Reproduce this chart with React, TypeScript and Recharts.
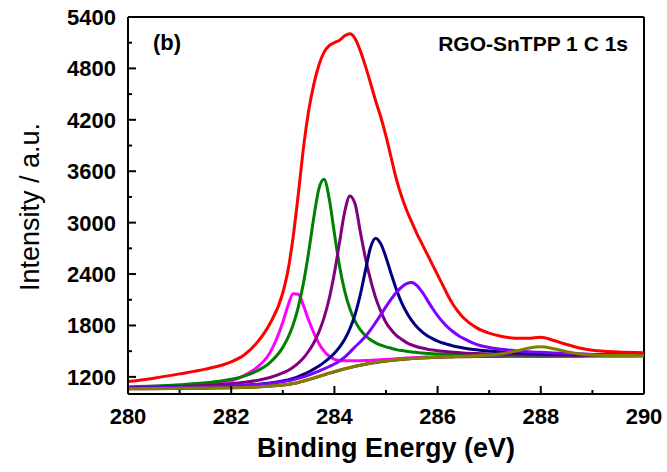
import React from "react";
import { LineChart, Line, XAxis, YAxis, ReferenceLine } from "recharts";

// binding energy grid (eV), finer around the peaks
const energy = [
  280, 280.5, 281, 281.5, 282, 282.25, 282.5, 282.75, 283, 283.1, 283.2, 283.3, 283.4, 283.5,
  283.6, 283.7, 283.8, 283.9, 284, 284.1, 284.2, 284.3, 284.4, 284.5, 284.6, 284.7, 284.8,
  284.9, 285, 285.1, 285.2, 285.3, 285.4, 285.5, 285.6, 285.7, 285.8, 285.9, 286, 286.1,
  286.2, 286.3, 286.4, 286.5, 286.75, 287, 287.25, 287.5, 287.75, 288, 288.25, 288.5, 288.75,
  289, 289.5, 290,
];

const background = [
  1060, 1062, 1065, 1068, 1072, 1076, 1082, 1092, 1105, 1112, 1122, 1135, 1150, 1168, 1186,
  1205, 1224, 1243, 1260, 1277, 1293, 1308, 1322, 1335, 1347, 1358, 1368, 1377, 1385, 1392,
  1398, 1404, 1409, 1413, 1417, 1420, 1423, 1426, 1428, 1430, 1432, 1433, 1434, 1435, 1437,
  1438, 1439, 1440, 1440, 1441, 1441, 1442, 1442, 1443, 1444, 1445,
];

const envelope = [
  1145, 1185, 1235, 1290, 1375, 1455, 1600, 1820, 2180, 2440, 2830, 3330, 3870, 4300, 4610,
  4840, 4990, 5065, 5100, 5130, 5180, 5205, 5150, 5010, 4830, 4630, 4420, 4230, 4010, 3760,
  3510, 3310, 3145, 3005, 2870, 2750, 2630, 2510, 2390, 2270, 2150, 2045, 1960, 1890, 1775,
  1710, 1672, 1652, 1650, 1663, 1625, 1578, 1537, 1510, 1490, 1482,
];

const peak2832 = [
  1073, 1080, 1092, 1110, 1154, 1215, 1310, 1480, 1837, 2031, 2170, 2164, 2033, 1863, 1715,
  1590, 1500, 1440, 1405, 1392, 1388, 1387, 1387, 1388, 1390, 1393, 1396, 1399, 1403, 1407,
  1411, 1415, 1419, 1423, 1426, 1429, 1431, 1433, 1435, 1436, 1438, 1439, 1440, 1441, 1442,
  1443, 1444, 1444, 1445, 1445, 1445, 1446, 1446, 1446, 1447, 1447,
];

const peak2838 = [
  1083, 1092, 1107, 1130, 1172, 1209, 1268, 1366, 1544, 1657, 1809, 2015, 2293, 2651, 3056,
  3398, 3506, 3279, 2874, 2491, 2200, 1994, 1851, 1752, 1683, 1633, 1597, 1570, 1550, 1534,
  1518, 1507, 1498, 1490, 1484, 1478, 1474, 1470, 1467, 1465, 1463, 1461, 1460, 1459, 1457,
  1455, 1454, 1453, 1452, 1452, 1451, 1451, 1451, 1451, 1451, 1451,
];

const peak2843 = [
  1074, 1080, 1088, 1100, 1120, 1136, 1158, 1193, 1246, 1275, 1313, 1361, 1421, 1499, 1596,
  1723, 1892, 2115, 2411, 2773, 3127, 3312, 3221, 2900, 2590, 2334, 2122, 1965, 1835, 1750,
  1685, 1640, 1600, 1572, 1552, 1536, 1523, 1513, 1505, 1498, 1492, 1487, 1483, 1479, 1472,
  1467, 1463, 1460, 1458, 1456, 1455, 1454, 1453, 1453, 1452, 1452,
];

const peak2848 = [
  1067, 1071, 1076, 1082, 1092, 1100, 1111, 1129, 1153, 1165, 1182, 1203, 1228, 1257, 1290,
  1327, 1369, 1418, 1476, 1547, 1638, 1761, 1927, 2154, 2437, 2709, 2819, 2752, 2594, 2403,
  2222, 2070, 1950, 1856, 1783, 1726, 1681, 1647, 1618, 1595, 1577, 1561, 1548, 1537, 1516,
  1501, 1490, 1482, 1476, 1471, 1467, 1465, 1462, 1461, 1458, 1457,
];

const peak2855 = [
  1070, 1074, 1079, 1085, 1094, 1101, 1110, 1124, 1143, 1153, 1166, 1182, 1200, 1221, 1244,
  1268, 1294, 1321, 1350, 1385, 1430, 1488, 1550, 1607, 1670, 1748, 1835, 1925, 2020, 2108,
  2185, 2246, 2287, 2302, 2266, 2191, 2096, 2001, 1914, 1839, 1777, 1726, 1684, 1650, 1580,
  1542, 1522, 1506, 1494, 1486, 1478, 1474, 1469, 1462, 1458, 1455,
];

const peak2880 = [
  1061, 1063, 1066, 1069, 1073, 1077, 1083, 1093, 1106, 1113, 1123, 1136, 1151, 1169, 1187,
  1206, 1225, 1244, 1261, 1278, 1294, 1309, 1323, 1336, 1348, 1359, 1369, 1378, 1386, 1393,
  1399, 1405, 1410, 1414, 1418, 1421, 1424, 1427, 1429, 1432, 1434, 1436, 1437, 1440, 1447,
  1456, 1471, 1498, 1533, 1551, 1529, 1494, 1468, 1456, 1448, 1446,
];

const majorX = [280, 282, 284, 286, 288, 290];
const minorX = [281, 283, 285, 287, 289];
const majorY = [1200, 1800, 2400, 3000, 3600, 4200, 4800, 5400];
const minorY = [1500, 2100, 2700, 3300, 3900, 4500, 5100];

const rows = energy.map((e, i) => ({
  e,
  bg: background[i],
  env: envelope[i],
  p1: peak2832[i],
  p2: peak2838[i],
  p3: peak2843[i],
  p4: peak2848[i],
  p5: peak2855[i],
  p6: peak2880[i],
}));

const FONT = '"Liberation Sans", Arial, Helvetica, sans-serif';

const series = [
  { key: "bg", color: "#800000" },
  { key: "p1", color: "#ff00ff" },
  { key: "p2", color: "#008000" },
  { key: "p3", color: "#800080" },
  { key: "p4", color: "#000080" },
  { key: "p5", color: "#8000ff" },
  { key: "p6", color: "#808000" },
  { key: "env", color: "#ff0000" },
];

function XTick(props: any) {
  const { x, y, payload } = props;
  const major = majorX.includes(payload.value);
  return (
    <g>
      <line x1={x} x2={x} y1={y} y2={y - (major ? 8 : 4)} stroke="#000" strokeWidth={2} />
      {major && (
        <text x={x} y={y + 30} textAnchor="middle" fontSize={22} fontWeight="bold" fontFamily={FONT} fill="#000">
          {payload.value}
        </text>
      )}
    </g>
  );
}

function YTick(props: any) {
  const { x, y, payload } = props;
  const major = majorY.includes(payload.value);
  return (
    <g>
      <line x1={x} x2={x + (major ? 8 : 4)} y1={y} y2={y} stroke="#000" strokeWidth={2} />
      {major && (
        <text x={x - 12} y={y + 8} textAnchor="end" fontSize={22} fontWeight="bold" fontFamily={FONT} fill="#000">
          {payload.value}
        </text>
      )}
    </g>
  );
}

export default function App() {
  return (
    <div style={{ position: "absolute", left: 0, top: 0, width: 667, height: 472, background: "#fff" }}>
      <LineChart
        width={667}
        height={472}
        data={rows}
        margin={{ top: 17, right: 23, bottom: 0, left: 0 }}
      >
        <XAxis
          dataKey="e"
          type="number"
          domain={[280, 290]}
          ticks={[...majorX, ...minorX].sort((a, b) => a - b)}
          interval={0}
          allowDataOverflow
          height={78}
          tickSize={0}
          tickMargin={0}
          tick={XTick}
          axisLine={{ stroke: "#000", strokeWidth: 2 }}
        />
        <YAxis
          type="number"
          domain={[1000, 5400]}
          ticks={[...majorY, ...minorY].sort((a, b) => a - b)}
          interval={0}
          allowDataOverflow
          width={128}
          tickSize={0}
          tickMargin={0}
          tick={YTick}
          axisLine={{ stroke: "#000", strokeWidth: 2 }}
        />
        <ReferenceLine y={5400} stroke="#000" strokeWidth={2} />
        <ReferenceLine x={290} stroke="#000" strokeWidth={2} />
        {series.map((s) => (
          <Line
            key={s.key}
            type="monotone"
            dataKey={s.key}
            stroke={s.color}
            strokeWidth={3}
            dot={false}
            activeDot={false}
            isAnimationActive={false}
          />
        ))}
      </LineChart>
      <svg
        width={667}
        height={472}
        style={{ position: "absolute", left: 0, top: 0, pointerEvents: "none" }}
      >
        <text x={153} y={50} fontSize={22} fontWeight="bold" fontFamily={FONT} fill="#000">
          (b)
        </text>
        <text x={628} y={51} textAnchor="end" fontSize={21} fontWeight="bold" fontFamily={FONT} fill="#000">
          RGO-SnTPP 1 C 1s
        </text>
        <text
          transform="translate(39, 207) rotate(-90)"
          textAnchor="middle"
          fontSize={27}
          fontFamily={FONT}
          fill="#000"
        >
          Intensity / a.u.
        </text>
        <text x={386} y={457} textAnchor="middle" fontSize={27} fontWeight="bold" fontFamily={FONT} fill="#000">
          Binding Energy (eV)
        </text>
      </svg>
    </div>
  );
}
